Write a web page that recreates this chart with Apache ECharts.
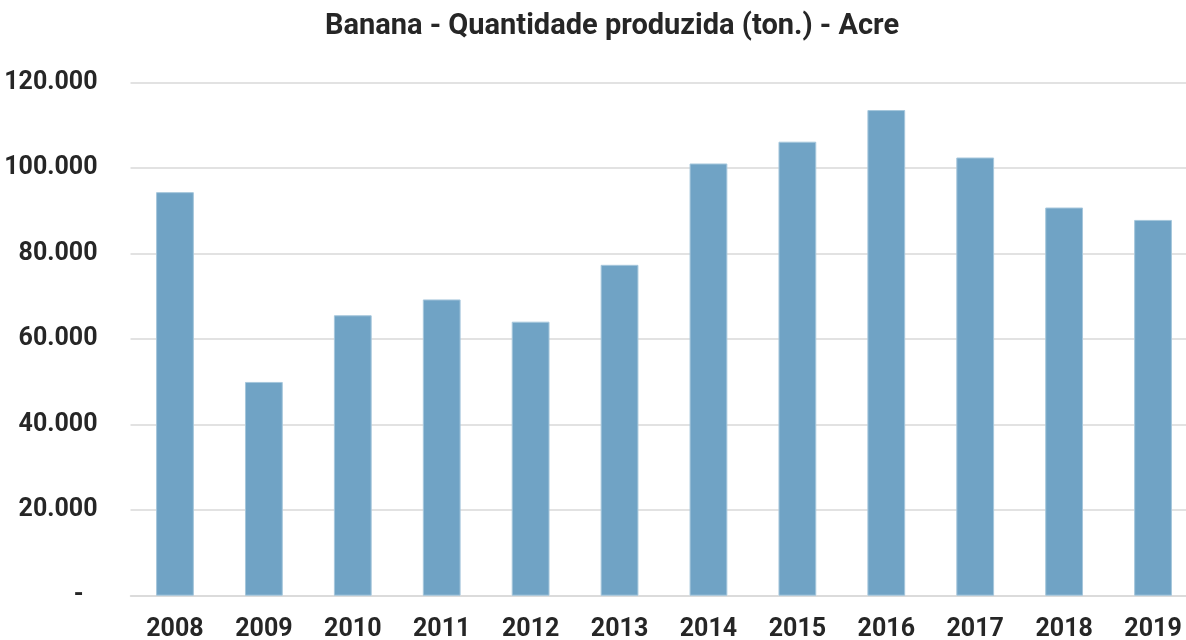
<!DOCTYPE html>
<html>
<head>
<meta charset="utf-8">
<title>Banana - Acre</title>
<script src="https://cdn.jsdelivr.net/npm/echarts@6/dist/echarts.min.js"></script>
<style>
  html, body { margin: 0; padding: 0; background: #fff; }
  #chart { width: 1186px; height: 640px; }
</style>
</head>
<body>
<div id="chart"></div>
<script>
// anos e producao (toneladas)
var years = ['2008', '2009', '2010', '2011', '2012', '2013', '2014', '2015', '2016', '2017', '2018', '2019'];
var production = [94400, 50000, 65600, 69300, 64100, 77400, 101100, 106200, 113600, 102500, 90800, 87900];
var yTicks = [0, 20000, 40000, 60000, 80000, 100000, 120000];
var yTickLabels = ['{dash|-}', '20.000', '40.000', '60.000', '80.000', '100.000', '120.000'];

var font = 'Roboto, sans-serif';

var chart = echarts.init(document.getElementById('chart'));
chart.setOption({
    animation: false,
    title: {
        text: 'Banana - Quantidade produzida (ton.) - Acre',
        left: 607,
        top: 7,
        textAlign: 'center',
        textStyle: { fontFamily: font, fontSize: 29, fontWeight: 'bold', color: '#262626' }
    },
    grid: {
        left: 130.5, top: 82.7, width: 1067, bottom: 44.3,
        containLabel: false, outerBoundsMode: 'none'
    },
    xAxis: {
        type: 'category',
        data: years,
        axisTick: { show: false },
        axisLine: { lineStyle: { color: '#d9d9d9', width: 1.5 } },
        axisLabel: {
            interval: 0, fontFamily: font, fontSize: 25, fontWeight: 'bold', color: '#262626', margin: 22
        }
    },
    yAxis: {
        type: 'value',
        min: yTicks[0],
        max: yTicks[yTicks.length - 1],
        interval: 20000,
        axisLine: { show: false },
        axisTick: { show: false },
        splitLine: { lineStyle: { color: '#d9d9d9', width: 1.5 } },
        axisLabel: {
            fontFamily: font, fontSize: 25, fontWeight: 'bold', color: '#262626', margin: 33,
            formatter: function (v) { return yTickLabels[yTicks.indexOf(v)]; },
            rich: {
                dash: { fontFamily: font, fontSize: 25, fontWeight: 'bold', color: '#262626', padding: [0, 14, 0, 0] }
            }
        }
    },
    series: [{
        type: 'bar',
        data: production,
        barWidth: '42.5%',
        itemStyle: { color: '#70a3c5', borderColor: '#a6c7dc', borderWidth: 1 }
    }]
});
</script>
</body>
</html>
